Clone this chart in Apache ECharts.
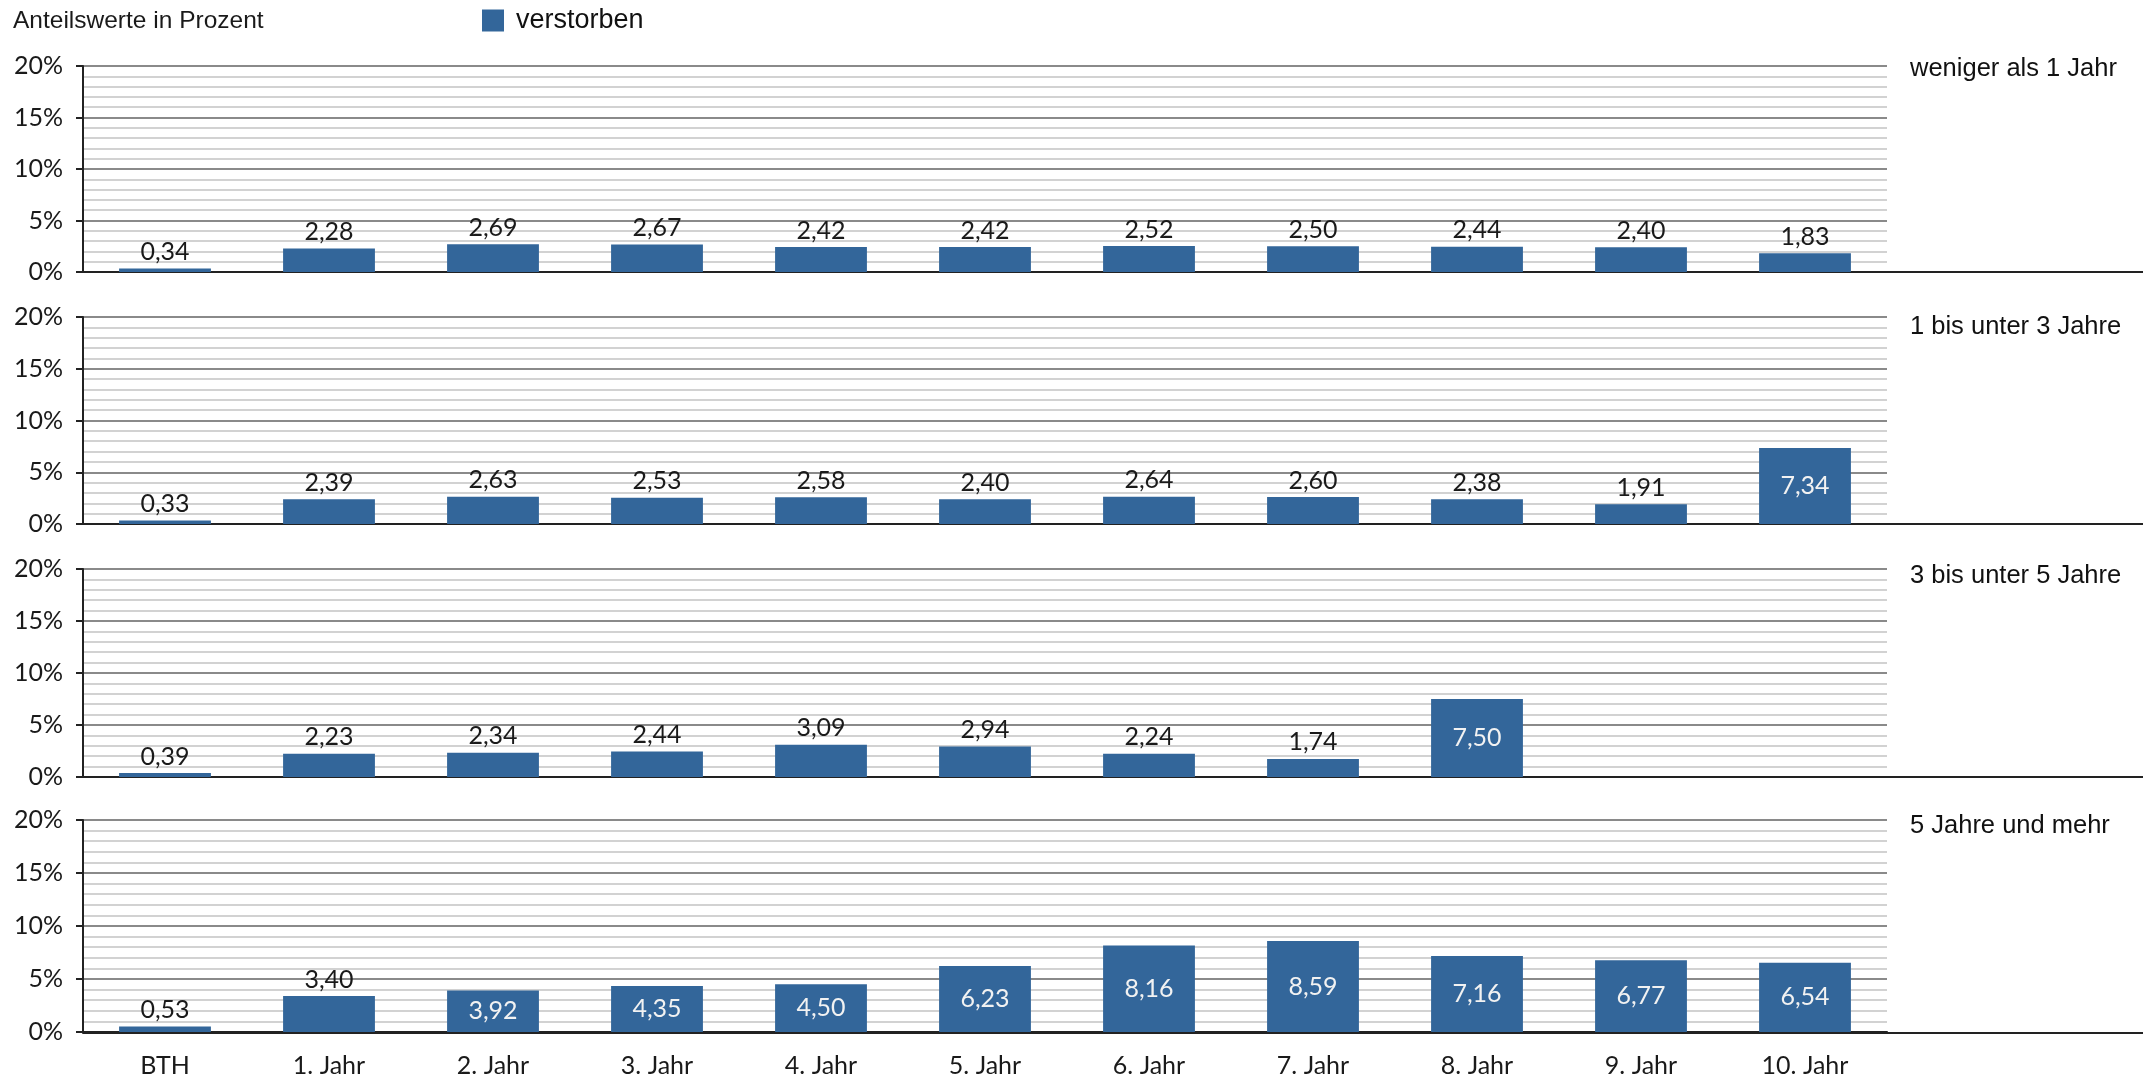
<!DOCTYPE html>
<html>
<head>
<meta charset="utf-8">
<script src="https://cdn.jsdelivr.net/npm/echarts@6/dist/echarts.min.js"></script>
<style>
html,body{margin:0;padding:0;background:#fff;}
#chart{width:2143px;height:1078px;}
</style>
</head>
<body>
<div id="chart"></div>
<script>
// ---- data ----
const categories = ['BTH', '1. Jahr', '2. Jahr', '3. Jahr', '4. Jahr', '5. Jahr', '6. Jahr', '7. Jahr', '8. Jahr', '9. Jahr', '10. Jahr'];
const panelTitles = ['weniger als 1 Jahr', '1 bis unter 3 Jahre', '3 bis unter 5 Jahre', '5 Jahre und mehr'];
const valsUnder1 = [0.34, 2.28, 2.69, 2.67, 2.42, 2.42, 2.52, 2.50, 2.44, 2.40, 1.83];
const vals1to3 = [0.33, 2.39, 2.63, 2.53, 2.58, 2.40, 2.64, 2.60, 2.38, 1.91, 7.34];
const vals3to5 = [0.39, 2.23, 2.34, 2.44, 3.09, 2.94, 2.24, 1.74, 7.50, null, null];
const vals5plus = [0.53, 3.40, 3.92, 4.35, 4.50, 6.23, 8.16, 8.59, 7.16, 6.77, 6.54];
const seriesName = 'verstorben';
const axisTitle = 'Anteilswerte in Prozent';
const yMin = 0, yMax = 20, yStep = 5;

// ---- layout / style ----
const panels = [valsUnder1, vals1to3, vals3to5, vals5plus];
const gridLeft = 83, gridRight = 256;
const tops = [66, 317, 569, 820];
const heights = [206, 207, 208, 213];
const titleTops = [51, 309, 558, 808];
const barColor = '#33669a';
const labelFont = 'Lato, "Noto Sans", sans-serif';
const textFont = '"Liberation Sans", Arial, sans-serif';
const fmt = v => v.toFixed(2).replace('.', ',');

const grids = [], xAxes = [], yAxes = [], series = [], titles = [];
titles.push({ text: axisTitle, left: 8, top: 4,
  textStyle: { fontFamily: textFont, fontSize: 24.5, fontWeight: 'normal', color: '#1a1a1a' } });

panels.forEach((vals, i) => {
  const last = i === panels.length - 1;
  grids.push({ left: gridLeft, right: gridRight, top: tops[i], height: heights[i] });
  xAxes.push({
    type: 'category', gridIndex: i, data: categories,
    axisLine: { show: true, lineStyle: { color: '#222', width: 2 } },
    axisTick: { show: false },
    axisLabel: { show: last, fontFamily: labelFont, fontSize: 25, color: '#1a1a1a', margin: 21 },
    splitLine: { show: false }
  });
  yAxes.push({
    type: 'value', gridIndex: i, min: yMin, max: yMax, interval: yStep,
    axisLine: { show: true, lineStyle: { color: '#222', width: 2 } },
    axisTick: { show: true, length: 7, lineStyle: { color: '#222', width: 2 } },
    axisLabel: { fontFamily: labelFont, fontSize: 25, color: '#1a1a1a', margin: 20, formatter: '{value}%' },
    splitLine: { show: true, lineStyle: { color: '#8a8a8a', width: 2 } },
    minorTick: { show: false, splitNumber: 5 },
    minorSplitLine: { show: true, lineStyle: { color: '#d2d2d2', width: 2 } }
  });
  series.push({
    name: seriesName, type: 'bar', xAxisIndex: i, yAxisIndex: i,
    barWidth: '56%',
    itemStyle: { color: barColor },
    data: vals.map(v => {
      if (v == null) return null;
      const inside = v > 3.5;
      return {
        value: v,
        label: {
          show: true, position: inside ? 'inside' : 'top', distance: 4,
          formatter: p => fmt(p.value),
          fontFamily: labelFont, fontSize: 25,
          color: inside ? '#f2f2f2' : '#1a1a1a'
        }
      };
    })
  });
  titles.push({ text: panelTitles[i], left: 1905, top: titleTops[i],
    textStyle: { fontFamily: textFont, fontSize: 25.5, fontWeight: 'normal', color: '#111' } });
});

// baseline extensions to the right edge
panels.forEach((vals, i) => {
  const gi = panels.length + i;
  grids.push({ left: gridLeft, right: 0, top: tops[i], height: heights[i] });
  xAxes.push({ type: 'value', gridIndex: gi, min: 0, max: 1, show: true,
    axisLine: { show: true, lineStyle: { color: '#222', width: 2 } },
    axisTick: { show: false }, axisLabel: { show: false }, splitLine: { show: false } });
  yAxes.push({ type: 'value', gridIndex: gi, min: yMin, max: yMax, show: false,
    splitLine: { show: false } });
});

const chart = echarts.init(document.getElementById('chart'), null, { renderer: 'canvas' });
chart.setOption({
  animation: false,
  backgroundColor: '#fff',
  title: titles,
  legend: {
    data: [seriesName], left: 482, top: 7, padding: 0, itemWidth: 22, itemHeight: 22, icon: 'rect',
    textStyle: { fontFamily: textFont, fontSize: 27, color: '#111', padding: [0, 0, 0, 7] }
  },
  grid: grids, xAxis: xAxes, yAxis: yAxes, series: series
});
</script>
</body>
</html>
